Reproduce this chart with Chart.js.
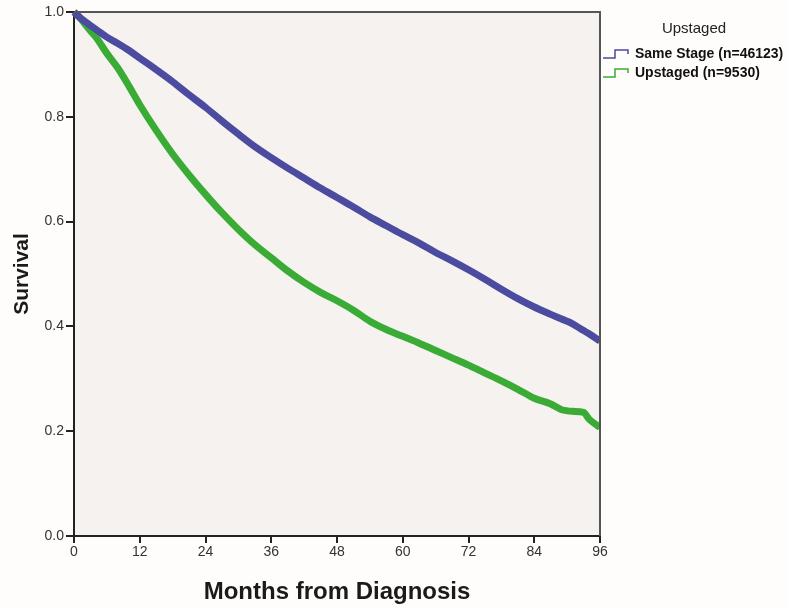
<!DOCTYPE html>
<html>
<head>
<meta charset="utf-8">
<script src="https://cdn.jsdelivr.net/npm/chart.js@4"></script>
<style>
  html, body { margin: 0; padding: 0; background: #fefdfb; }
  #wrap { width: 788px; height: 609px; position: relative; }
</style>
</head>
<body>
<div id="wrap"><canvas id="c" width="788" height="609"></canvas></div>
<script>
const months = [0,1,2,3,4,6,8,10,12,15,18,21,24,27,30,33,36,39,42,45,48,51,54,57,60,63,66,69,72,75,78,81,84,87,89,91,93,94,96];
const sameStage = [1.0,0.99,0.982,0.974,0.967,0.952,0.94,0.927,0.912,0.89,0.867,0.842,0.818,0.792,0.767,0.743,0.722,0.702,0.683,0.664,0.646,0.628,0.609,0.592,0.575,0.559,0.541,0.525,0.508,0.49,0.471,0.453,0.437,0.423,0.414,0.405,0.392,0.386,0.372];
const upstaged = [1.0,0.99,0.977,0.964,0.952,0.921,0.893,0.859,0.823,0.774,0.729,0.689,0.652,0.617,0.585,0.556,0.531,0.506,0.484,0.465,0.449,0.431,0.41,0.394,0.381,0.368,0.354,0.34,0.326,0.311,0.296,0.28,0.263,0.252,0.241,0.238,0.236,0.223,0.207];
const seriesLabels = ['Same Stage (n=46123)', 'Upstaged (n=9530)'];
const legendTitle = 'Upstaged';
const xTicks = [0,12,24,36,48,60,72,84,96];
const yTicks = [0.0,0.2,0.4,0.6,0.8,1.0];
const xTitle = 'Months from Diagnosis';
const yTitle = 'Survival';

const FONT = '"Liberation Sans", Arial, sans-serif';
const BLUE = '#4b4ba0';
const GREEN = '#3aab35';

const toPts = (vals) => months.map((m, i) => ({x: m, y: vals[i]}));

const bgPlugin = {
  id: 'bg',
  beforeDraw(chart) {
    const {ctx, chartArea: a} = chart;
    ctx.save();
    ctx.fillStyle = '#f5f2f0';
    ctx.fillRect(a.left, a.top, a.right - a.left, a.bottom - a.top);
    ctx.restore();
  },
  afterDatasetsDraw(chart) {
    const {ctx, chartArea: a} = chart;
    ctx.save();
    ctx.strokeStyle = '#555';
    ctx.lineWidth = 2;
    ctx.beginPath();
    ctx.moveTo(a.left, a.top);
    ctx.lineTo(a.right, a.top);
    ctx.lineTo(a.right, a.bottom);
    ctx.stroke();
    ctx.restore();
  }
};

const legendPlugin = {
  id: 'kmLegend',
  afterDraw(chart) {
    const {ctx} = chart;
    ctx.save();
    ctx.fillStyle = '#222';
    ctx.font = '15px ' + FONT;
    ctx.textAlign = 'center';
    ctx.textBaseline = 'middle';
    ctx.fillText(legendTitle, 694, 29);
    chart.data.datasets.forEach((ds, i) => {
      const y = 54 + i * 19;
      ctx.strokeStyle = ds.borderColor;
      ctx.lineWidth = 1.5;
      ctx.beginPath();
      ctx.moveTo(603, y + 4);
      ctx.lineTo(615, y + 4);
      ctx.lineTo(615, y - 4);
      ctx.lineTo(628, y - 4);
      ctx.lineTo(628, y);
      ctx.stroke();
      ctx.fillStyle = '#111';
      ctx.font = 'bold 14px ' + FONT;
      ctx.textAlign = 'left';
      ctx.fillText(ds.label, 635, y);
    });
    ctx.restore();
  }
};

new Chart(document.getElementById('c'), {
  type: 'line',
  data: {
    datasets: [
      { label: seriesLabels[0], data: toPts(sameStage), borderColor: BLUE, borderWidth: 7, pointRadius: 0, cubicInterpolationMode: 'monotone', fill: false, clip: {left: 4, top: 4, right: 0, bottom: 0} },
      { label: seriesLabels[1], data: toPts(upstaged), borderColor: GREEN, borderWidth: 7, pointRadius: 0, cubicInterpolationMode: 'monotone', fill: false, clip: {left: 4, top: 4, right: 0, bottom: 0} }
    ]
  },
  options: {
    responsive: false,
    animation: false,
    layout: { padding: { left: 0, right: 188, top: 12, bottom: 0 } },
    plugins: { legend: { display: false }, tooltip: { enabled: false } },
    scales: {
      x: {
        type: 'linear', min: 0, max: 96,
        afterBuildTicks(s) { s.ticks = xTicks.map(v => ({value: v})); },
        afterFit(s) { s.height = 73; },
        ticks: { color: '#333', font: { family: FONT, size: 14 }, padding: 1, maxRotation: 0, autoSkip: false },
        grid: { drawOnChartArea: false, drawTicks: true, tickLength: 7, color: '#222', lineWidth: 2 },
        border: { display: true, color: '#222', width: 2 },
        title: { display: true, text: xTitle, color: '#1a1a1a', font: { family: FONT, size: 24, weight: 'bold' }, padding: { top: 0, bottom: 2 } }
      },
      y: {
        type: 'linear', min: 0, max: 1,
        afterBuildTicks(s) { s.ticks = yTicks.map(v => ({value: v})); },
        afterFit(s) { s.width = 74; },
        ticks: { color: '#333', font: { family: FONT, size: 14 }, padding: 2, callback: v => Number(v).toFixed(1) },
        grid: { drawOnChartArea: false, drawTicks: true, tickLength: 8, color: '#222', lineWidth: 2 },
        border: { display: true, color: '#222', width: 2 },
        title: { display: true, text: yTitle, color: '#1a1a1a', font: { family: FONT, size: 21, weight: 'bold' }, padding: { top: 10, bottom: 0 } }
      }
    }
  },
  plugins: [bgPlugin, legendPlugin]
});
</script>
</body>
</html>
